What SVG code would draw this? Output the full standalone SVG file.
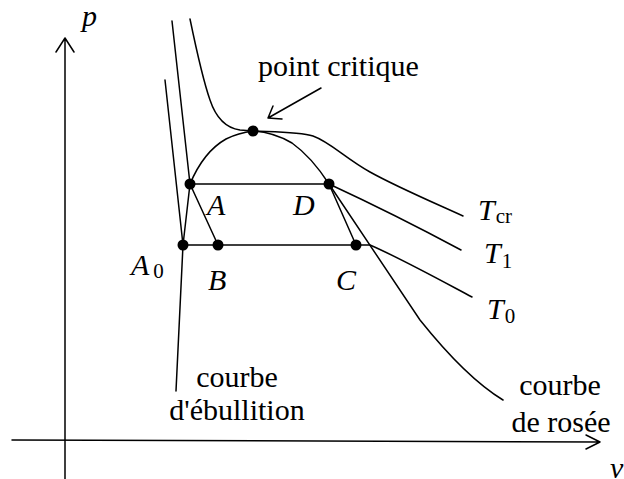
<svg xmlns="http://www.w3.org/2000/svg" width="624" height="479" viewBox="0 0 624 479">
<rect width="624" height="479" fill="#fff"/>
<g font-family="Liberation Serif, Times New Roman, serif" font-size="30" fill="#000">
<g id="axes">
<path d="M65,479 L65,38 M56,52 L65,38 L74,52" fill="none" stroke="#000" stroke-width="1.5" stroke-linecap="round" stroke-linejoin="round"/>
<path d="M12,440 L600,442 M586,435 L600,442 L586,449" fill="none" stroke="#000" stroke-width="1.5" stroke-linecap="round" stroke-linejoin="round"/>
<text font-style="italic" x="82" y="26">p</text>
<text font-style="italic" x="610" y="478">v</text>
</g>
<g id="connectors" fill="none" stroke="#000" stroke-width="1.5" stroke-linecap="round" stroke-linejoin="round">
<path d="M176,391 L183,245 L190,184 C198,165 210,148 226,139 C236,134 245,132 253,131"/>
<path d="M253,131 C268,132 280,136 292,143 C306,153 318,167 329,184 L420,320 C440,345 470,380 503,400"/>
<path d="M165,80 L183,245 L370,245 C400,258 440,280 472,297"/>
<path d="M172,21 L190,184 L329,184 C370,203 420,228 461,250"/>
<path d="M190,184 L218,245"/>
<path d="M329,184 L356,245"/>
<path d="M190,19 C196,48 203,80 210,100 C216,118 226,128 240,130 L253,131 C275,132 300,132 313,136 C330,142 345,158 370,172 C395,186 430,201 463,216"/>
<path d="M321,88 L268,118 M273,106 L268,118 L282,119"/>
</g>
<g id="point-critique">
<circle cx="253" cy="131" r="5.5"/>
<text x="258" y="76">point critique</text>
</g>
<g id="A">
<circle cx="190" cy="184" r="5.5"/>
<text font-style="italic" x="207" y="215">A</text>
</g>
<g id="D">
<circle cx="329" cy="184" r="5.5"/>
<text font-style="italic" x="293" y="215">D</text>
</g>
<g id="A0">
<circle cx="183" cy="245" r="5.5"/>
<text font-style="italic" x="131" y="275">A<tspan font-style="normal" font-size="21" dx="4" dy="3">0</tspan></text>
</g>
<g id="B">
<circle cx="218" cy="245" r="5.5"/>
<text font-style="italic" x="208" y="290">B</text>
</g>
<g id="C">
<circle cx="356" cy="245" r="5.5"/>
<text font-style="italic" x="336" y="290">C</text>
</g>
<g id="Tcr"><text font-style="italic" x="478" y="220">T<tspan font-style="normal" font-size="21" dx="1" dy="3">cr</tspan></text></g>
<g id="T1"><text font-style="italic" x="484" y="263">T<tspan font-style="normal" font-size="21" dx="1" dy="5">1</tspan></text></g>
<g id="T0"><text font-style="italic" x="487" y="319">T<tspan font-style="normal" font-size="21" dx="1" dy="4">0</tspan></text></g>
<g id="courbe-ebullition" text-anchor="middle">
<text x="237" y="387">courbe</text>
<text x="237" y="420">d'&#233;bullition</text>
</g>
<g id="courbe-rosee" text-anchor="middle">
<text x="560" y="395">courbe</text>
<text x="561" y="432">de ros&#233;e</text>
</g>
</g>
</svg>
